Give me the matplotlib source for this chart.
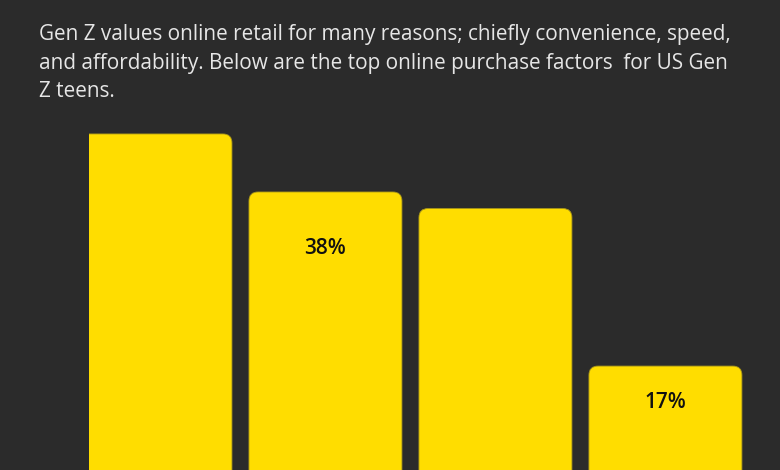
import matplotlib
matplotlib.use("Agg")
import matplotlib.pyplot as plt
from matplotlib.patches import FancyBboxPatch

# data
factors = ["Factor 1", "Factor 2", "Factor 3", "Factor 4"]
shares = [45, 38, 36, 17]
labels = ["", "38%", "", "17%"]
label_drop_px = [0, 57, 0, 36]

intro_lines = ["Gen Z values online retail for many reasons; chiefly convenience, speed,",
               "and affordability. Below are the top online purchase factors  for US Gen",
               "Z teens."]

BG = "#2b2b2b"
BAR = "#ffdd00"

W, H, DPI = 780, 470, 100
fig = plt.figure(figsize=(W / DPI, H / DPI), dpi=DPI, facecolor=BG)

# axes placed in pixels; bottom runs below the picture so bars look cut off
ax_left, ax_right = 89, 780
ax_top, ax_bottom = 92.5, 507
ax = fig.add_axes([ax_left / W, (H - ax_bottom) / H,
                   (ax_right - ax_left) / W, (ax_bottom - ax_top) / H])
ax.set_facecolor(BG)
ax.set_xlim(-0.391, 3.674)
ax.set_ylim(0, 50)
ax.axis("off")

px_x = (ax_right - ax_left) / (3.674 + 0.391)
px_y = (ax_bottom - ax_top) / 50
radius_px = 9
bar_w = 0.9

for i, v in enumerate(shares):
    box = FancyBboxPatch((i - bar_w / 2, 0), bar_w, v,
                         boxstyle=f"round,pad=0,rounding_size={radius_px / px_x}",
                         mutation_aspect=px_x / px_y,
                         facecolor=BAR, edgecolor="#a8961a", linewidth=0.6,
                         clip_on=True)
    ax.add_patch(box)
    if labels[i]:
        ax.annotate(labels[i], (i, v), xytext=(0, -label_drop_px[i] * 72 / DPI),
                    textcoords="offset points", ha="center", va="center",
                    fontsize=15, fontfamily="Open Sans", fontweight="semibold",
                    color="#111111")

# intro text, one line per baseline; size tuned so line 1 spans ~696 px
texts = []
for k, line in enumerate(intro_lines):
    t = fig.text(39 / W, 1 - (40 + 28.5 * k) / H, line, ha="left", va="baseline",
                 fontsize=14, fontfamily="Open Sans", color="#e6e6e6")
    texts.append(t)
renderer = fig.canvas.get_renderer()
w1 = texts[0].get_window_extent(renderer).width
for t in texts:
    t.set_fontsize(14 * 696 / w1)

fig.savefig("out.png", dpi=DPI, facecolor=BG)
